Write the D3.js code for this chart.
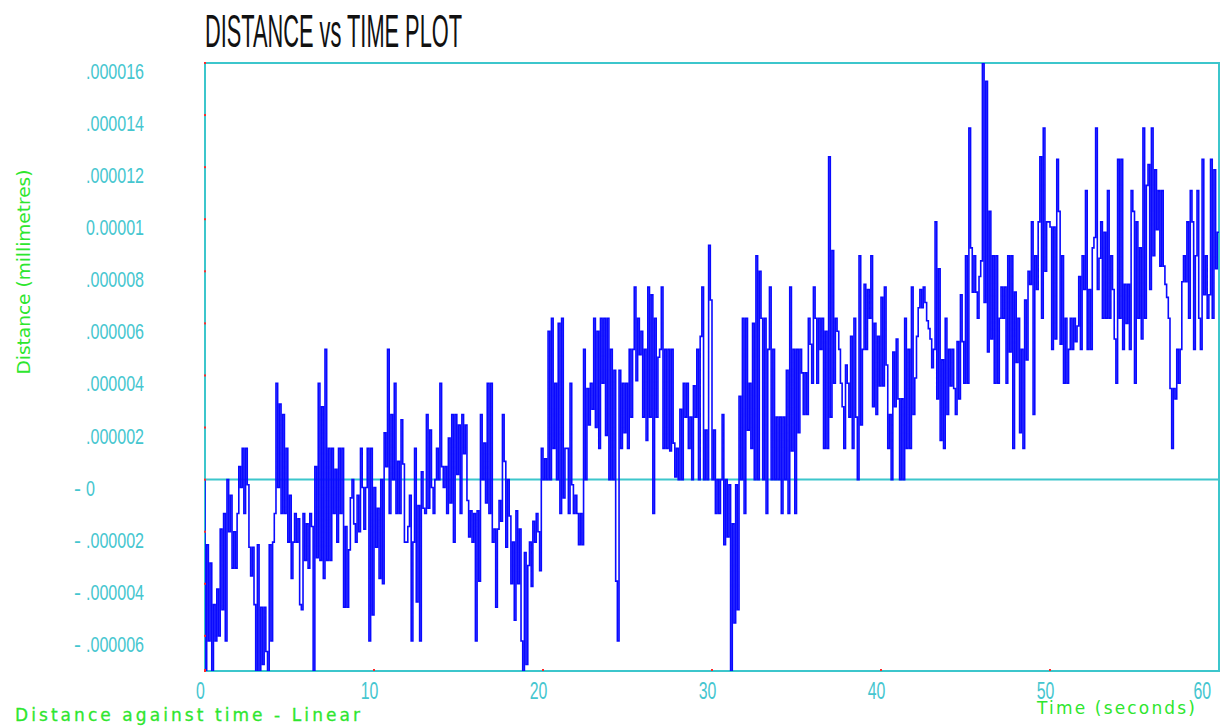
<!DOCTYPE html>
<html>
<head>
<meta charset="utf-8">
<script src="https://cdn.jsdelivr.net/npm/d3@7"></script>
<style>
html,body{margin:0;padding:0;background:#ffffff;overflow:hidden}
</style>
</head>
<body>
<svg id="chart" width="1220" height="726"></svg>
<script>
// ---------------- data ----------------
const chartTitle = "DISTANCE vs TIME PLOT";
const xAxisTitle = "Time (seconds)";
const yAxisTitle = "Distance (millimetres)";
const footnote = "Distance against time - Linear";
const sampleInterval = 0.1; // seconds between samples
const xTicks = [0, 10, 20, 30, 40, 50, 60];
const xTickLabels = ["0", "10", "20", "30", "40", "50", "60"];
// tick values in units of 0.000001 mm
const yTicks = [16, 14, 12, 10, 8, 6, 4, 2, 0, -2, -4, -6];
const yTickLabels = [".000016", ".000014", ".000012", "0.00001", ".000008", ".000006", ".000004", ".000002", "-0", "-.000002", "-.000004", "-.000006"];
// distance samples in units of 0.000001 mm, one per 0.1 s (each row = one second)
const distance = [
 0,-7.4,-2.5,-6.2,-3.2,-7.4,-4.8,-6.2,-4.2,-6.0,
 -1.9,-5.0,-1.3,-6.2,0,-2.0,-0.6,-3.4,-2.0,-3.4,
 -1.3,0.5,-0.3,1.2,-1.3,1.2,-0.2,-2.6,-3.7,-2.6,
 -4.8,-7.4,-2.5,-7.4,-4.9,-7.1,-4.9,-6.6,-7.4,-2.5,
 -6.2,-2.4,-1.3,3.7,-0.3,2.9,-1.3,2.5,-1.3,1.2,
 -2.4,-0.6,-3.8,-2.4,-1.3,-2.4,-1.5,-4.8,-5.0,-1.3,
 -3.1,-1.7,-3.4,-1.3,-1.8,-7.4,0.5,-3.0,3.7,-3.1,
 2.8,-3.8,5.0,-3.1,1.2,-3.1,1.2,-1.3,0.4,-2.4,
 1.2,-1.3,1.2,-4.9,-1.8,-4.9,-2.7,-0.7,0,-1.7,
 -2.4,-0.6,-2.0,1.2,-0.3,-1.9,-0.3,1.2,-6.2,1.2,
 -5.2,-0.3,-2.6,-1.1,-3.8,0,-4.0,1.8,0.5,5.0,
 -1.3,2.5,0,3.7,-1.3,0.7,-1.3,2.3,0.6,-2.4,
 -2.4,-1.8,-0.6,-6.2,-2.4,1.2,-4.7,-1.0,-6.2,0.3,
 -1.1,-1.3,2.5,-1.1,1.9,-0.3,-1.3,0,1.2,0,
 3.7,0.5,-0.3,0.5,-1.3,1.6,-0.9,2.5,-2.4,2.5,
 0.2,2.1,-1.3,2.5,1.0,2.1,-0.8,-2.2,-1.2,-2.4,
 -1.3,-6.2,-1.2,-3.9,2.5,0,1.4,-0.9,3.7,-1.3,
 3.7,-2.4,-1.9,-4.9,-1.9,-0.8,-1.6,2.5,0.7,-2.6,
 0,-1.4,-4.0,-2.4,-5.4,-1.2,-4.0,-1.9,-6.2,-7.4,
 -2.8,-7.1,-3.3,-2.4,-4.1,-1.6,-2.4,-1.3,-2.0,-3.5,
 1.2,0,0.8,0,5.7,0,6.2,1.2,3.7,0,
 6.0,-1.3,6.2,-0.7,1.2,1.2,-1.3,3.7,-0.2,-1.3,
 -0.6,-1.3,-2.5,-1.3,-2.5,5.0,0,3.5,2.1,3.7,
 2.7,6.2,2.0,5.7,1.2,6.2,3.7,6.2,1.7,6.2,
 0,5.0,0,4.2,-3.9,-6.2,4.2,1.2,3.7,1.8,
 3.7,1.2,5.0,2.4,5.0,7.4,3.8,6.2,4.8,5.7,
 2.4,5.0,1.5,7.4,2.4,7.1,-1.3,6.2,2.4,4.7,
 5.0,7.4,1.2,5.0,1.2,5.0,1.1,5.0,1.4,0.1,
 1.2,0,2.7,0,3.7,2.4,3.7,1.2,2.4,0,
 3.6,2.4,5.0,0,5.5,7.4,0,1.9,0,9.0,
 6.9,0,1.9,-1.3,0,-1.3,0,2.5,-2.5,0,
 -2.2,-0.2,-7.4,-1.7,-5.5,-0.2,-5.0,3.2,0,6.2,
 -1.3,6.2,1.9,3.7,1.2,6.0,0,8.6,0,8.0,
 6.2,0,6.2,-1.3,5.0,7.4,0,5.0,0,2.4,
 0,2.4,-1.3,2.4,0,4.2,-1.3,7.4,1.1,5.0,
 -1.3,5.0,1.8,5.0,4.1,2.5,4.1,2.5,6.2,5.2,
 3.7,7.4,6.2,3.7,6.2,5.0,6.2,1.2,5.7,1.2,
 12.4,2.4,8.8,3.7,6.2,5.7,5.0,3.7,2.8,1.2,
 4.4,3.7,2.4,5.5,1.2,6.2,2.4,0,8.6,2.1,
 5.0,7.5,5.0,7.3,6.2,8.6,2.8,6.0,2.5,5.5,
 3.6,7.0,3.6,7.4,4.4,1.2,2.5,0,4.9,2.8,
 5.4,3.1,0,3.1,0,6.2,1.2,5.0,1.2,7.4,
 2.5,3.9,5.5,6.6,7.3,6.6,7.4,6.8,6.1,5.8,
 5.4,4.3,5.0,9.9,3.1,8.1,1.5,4.6,1.2,6.2,
 2.5,5.0,3.6,5.0,3.5,2.5,5.3,3.1,7.1,5.3,
 3.7,8.6,3.7,13.5,8.9,7.2,8.6,7.2,6.2,7.8,
 8.4,16.0,6.8,15.3,4.9,10.3,5.4,8.6,3.7,8.6,
 3.7,6.2,7.4,6.2,7.4,3.7,8.6,4.9,8.6,1.2,
 7.2,4.5,6.2,1.8,5.0,1.2,6.9,4.6,8.0,7.5,
 9.9,2.5,8.6,7.3,9.9,12.4,6.2,13.5,8.0,9.9,
 9.9,9.7,5.0,9.7,5.4,12.3,10.3,5.2,8.6,3.7,
 6.2,3.7,5.0,6.2,5.0,6.2,5.3,5.9,7.8,5.0,
 8.6,7.3,11.1,5.0,7.3,5.0,8.9,9.3,13.5,7.3,
 8.5,9.9,6.2,9.5,6.2,11.1,6.2,8.6,7.3,5.4,
 3.7,12.3,6.2,12.3,5.0,7.5,6.0,7.5,5.0,11.1,
 10.3,3.7,9.9,6.2,8.9,5.4,13.5,6.2,11.3,12.1,
 7.3,13.5,8.6,11.9,9.6,11.1,8.2,11.1,8.2,7.5,
 7.0,6.2,3.5,1.2,3.5,3.1,5.0,3.7,5.0,7.6,
 8.6,7.6,9.9,6.2,11.1,9.9,5.0,8.6,11.1,6.2,
 5.0,12.3,7.1,8.6,6.2,7.1,12.3,6.2,11.9,8.1,
 9.5
];

// ---------------- drawing ----------------
(function () {
const svg = d3.select("#chart");
const cyan = "#3cc6cc";
const labelCyan = "#45c6cf";
const green = "#2ee62e";
const pLeft = 205, pRight = 1219, pTop = 63, pBottom = 671;

const x = d3.scaleLinear().domain([0, 60]).range([pLeft, pRight]);
const y = d3.scaleLinear().domain([-7.35, 16]).range([pBottom, pTop]);

function condense(sel, factor) {
  sel.each(function () {
    const L = this.getComputedTextLength();
    this.setAttribute("textLength", L * factor);
    this.setAttribute("lengthAdjust", "spacingAndGlyphs");
  });
}

// title
svg.append("text")
  .attr("x", pLeft).attr("y", 47)
  .attr("font-family", "Liberation Sans, Arial, sans-serif")
  .attr("font-size", 47)
  .attr("fill", "#111")
  .attr("textLength", 257).attr("lengthAdjust", "spacingAndGlyphs")
  .text(chartTitle);

// clip
svg.append("defs").append("clipPath").attr("id", "plotclip")
  .append("rect").attr("x", pLeft).attr("y", pTop).attr("width", pRight - pLeft + 1).attr("height", pBottom - pTop);

// frame
svg.append("rect")
  .attr("x", pLeft).attr("y", pTop).attr("width", pRight - pLeft).attr("height", pBottom - pTop)
  .attr("fill", "none").attr("stroke", cyan).attr("stroke-width", 2);

// zero line
svg.append("line")
  .attr("x1", pLeft).attr("x2", pRight).attr("y1", y(0)).attr("y2", y(0))
  .attr("stroke", cyan).attr("stroke-width", 2);

// data line
const series = distance.map((v, i) => ({ t: i * sampleInterval, v }));
const line = d3.line().x(d => x(d.t)).y(d => y(d.v)).curve(d3.curveStepBefore);
svg.append("path")
  .datum(series)
  .attr("clip-path", "url(#plotclip)")
  .attr("d", line)
  .attr("fill", "none")
  .attr("stroke", "#0a0aff")
  .attr("stroke-width", 1.6);

// red tick marks
const tickG = svg.append("g");
yTicks.concat([y.domain()[0]]).forEach(v => {
  tickG.append("rect").attr("x", pLeft - 1).attr("y", y(v) - 1).attr("width", 2).attr("height", 2).attr("fill", "#ff2a2a");
});
xTicks.slice(0, -1).forEach(v => {
  tickG.append("rect").attr("x", x(v) - 1).attr("y", pBottom - 2).attr("width", 2).attr("height", 2).attr("fill", "#ff2a2a");
});

// y tick labels
const yl = svg.append("g")
  .attr("font-family", "Liberation Sans, Arial, sans-serif")
  .attr("font-size", 22)
  .attr("fill", labelCyan);
yTicks.forEach((v, i) => {
  const lab = yTickLabels[i];
  const neg = lab.startsWith("-");
  const num = neg ? lab.slice(1) : lab;
  const base = y(v) + 16;
  if (neg) {
    yl.append("text").attr("x", 74).attr("y", base).text("-").call(condense, 0.95);
  }
  yl.append("text").attr("x", 86).attr("y", base).text(num).call(condense, 0.73);
});

// x tick labels
const xl = svg.append("g")
  .attr("font-family", "Liberation Sans, Arial, sans-serif")
  .attr("font-size", 24)
  .attr("fill", labelCyan);
xTicks.forEach((v, i) => {
  const last = i === xTicks.length - 1;
  xl.append("text")
    .attr("x", last ? 1211 : x(v) - 4.5)
    .attr("y", 699)
    .attr("text-anchor", last ? "end" : "middle")
    .text(xTickLabels[i])
    .call(condense, 0.66);
});

// axis titles
svg.append("text")
  .attr("transform", "translate(30,272) rotate(-90)")
  .attr("text-anchor", "middle")
  .attr("font-family", "DejaVu Sans, Verdana, sans-serif")
  .attr("font-size", 17)
  .attr("fill", green)
  .attr("textLength", 205).attr("lengthAdjust", "spacingAndGlyphs")
  .text(yAxisTitle);

svg.append("text")
  .attr("x", 1037).attr("y", 714)
  .attr("font-family", "DejaVu Sans, Verdana, sans-serif")
  .attr("font-size", 17)
  .attr("fill", green)
  .attr("textLength", 158).attr("lengthAdjust", "spacing")
  .text(xAxisTitle);

svg.append("text")
  .attr("x", 15).attr("y", 721)
  .attr("font-family", "DejaVu Sans, Verdana, sans-serif")
  .attr("font-size", 17)
  .attr("fill", green)
  .attr("stroke", green).attr("stroke-width", 0.3)
  .attr("textLength", 345).attr("lengthAdjust", "spacing")
  .text(footnote);
})();
</script>
</body>
</html>
